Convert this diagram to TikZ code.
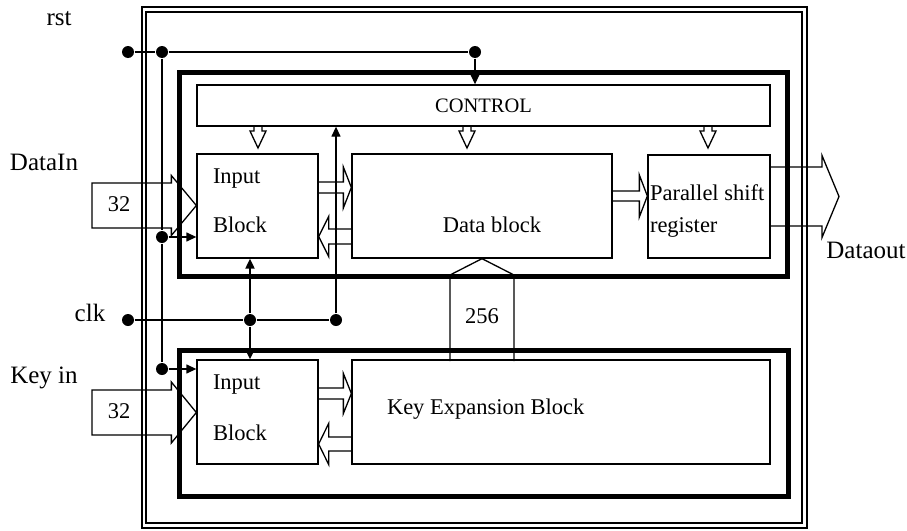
\documentclass[tikz,border=0pt]{standalone}
\usepackage{fontspec}
\setmainfont{Liberation Serif}
\usetikzlibrary{arrows.meta,calc}

\tikzset{
  blk/.style={draw,rectangle,inner sep=0pt,line width=1.3pt},
  dot/.style={circle,fill,inner sep=0pt,minimum size=12pt},
  lbl/.style={font=\fontsize{25}{30}\selectfont},
  fat/.style n args={3}{to path={let \p1=(\tikztostart),\p2=(\tikztotarget) in
    ({\x1},{\y1+#1pt}) -- ({\x2-(#3pt)},{\y1+#1pt}) -- ({\x2-(#3pt)},{\y1+#2pt}) -- ({\x2},{\y1})
    -- ({\x2-(#3pt)},{\y1-#2pt}) -- ({\x2-(#3pt)},{\y1-#1pt}) -- ({\x1},{\y1-#1pt})}},
  fatin/.style n args={3}{to path={let \p1=(\tikztostart),\p2=(\tikztotarget) in
    ({\x1},{\y1+#1pt}) -- ({\x2-(#3pt)},{\y1+#1pt}) -- ({\x2-(#3pt)},{\y1+#2pt}) -- ({\x2},{\y1})
    -- ({\x2-(#3pt)},{\y1-#2pt}) -- ({\x2-(#3pt)},{\y1-#1pt}) -- ({\x1},{\y1-#1pt}) -- cycle}},
}

\begin{document}
\begin{tikzpicture}[x=1pt,y=-1pt,>={Triangle[length=10pt,width=9pt]},line width=1.3pt,
  every node/.style={font=\fontsize{22.5}{27}\selectfont}]
\useasboundingbox (0,0) rectangle (907,530);
\draw (142,7) rectangle (807,528);
\draw (146,12) rectangle (802,523);
\draw[line width=5pt] (179,72) rectangle (787,276);
\draw[line width=5pt] (179,350) rectangle (788,496);

\node[blk,minimum width=573pt,minimum height=41pt,font=\fontsize{20.5}{24}\selectfont] (ctrl) at (483.5,105.5) {CONTROL};
\node[blk,minimum width=121pt,minimum height=104pt] (inA) at (257.5,206) {};
\node[blk,minimum width=260pt,minimum height=104pt] (datab) at (482,206) {};
\node[blk,minimum width=122pt,minimum height=103pt] (psr) at (709,206.5) {};
\node[blk,minimum width=121pt,minimum height=104pt] (inB) at (257.5,412) {};
\node[blk,minimum width=418pt,minimum height=104pt] (keyx) at (561,412) {};

\node[anchor=base west,inner xsep=0pt] (inAt1) at ([shift={(16,-23)}]inA.west) {Input};
\node[anchor=base west,inner xsep=0pt] (inAt2) at ([shift={(16,26)}]inA.west) {Block};
\node[anchor=base] (datat) at ([shift={(10,26)}]datab.center) {Data block};
\node[anchor=base west,inner xsep=0pt] (psrt1) at ([shift={(2,-6.5)}]psr.west) {Parallel shift};
\node[anchor=base west,inner xsep=0pt] (psrt2) at ([shift={(2,25.5)}]psr.west) {register};
\node[anchor=base west,inner xsep=0pt] (inBt1) at ([shift={(16,-23)}]inB.west) {Input};
\node[anchor=base west,inner xsep=0pt] (inBt2) at ([shift={(16,28)}]inB.west) {Block};
\node[anchor=base west,inner xsep=0pt] (keyt) at ([shift={(35,2)}]keyx.west) {Key Expansion Block};

\foreach \x in {258,467,708}
  \draw (\x-4,126) -- (\x-4,131) -- (\x-8,131) -- (\x,148) -- (\x+8,131) -- (\x+4,131) -- (\x+4,126);

\draw[fat={5.5}{20.5}{8}] ([yshift=18.5pt]inA.east) to ([yshift=18.5pt]datab.west);
\draw[fat={7.5}{20}{-10}] ([yshift=-30.5pt]datab.west) to ([yshift=-30.5pt]inA.east);
\draw[fat={5}{21}{8}] ([yshift=10pt]datab.east) to ([yshift=10pt]psr.west);
\coordinate (dout) at (839,196.5);
\draw[fat={29.5}{41}{17}] ([yshift=10pt]psr.east) to (dout);
\draw[fat={5.5}{20}{8}] ([yshift=18.5pt]inB.east) to ([yshift=18.5pt]keyx.west);
\draw[fat={7}{20.5}{-10}] ([yshift=-32pt]keyx.west) to ([yshift=-32pt]inB.east);

\coordinate (dinA) at (92,205.5);
\coordinate (dinB) at (92,412.5);
\draw[fatin={22.5}{30}{25}] (dinA) to (inA.west);
\draw[fatin={22.5}{30.5}{25}] (dinB) to (inB.west);
\node (wa) at (119,204) {32};
\node (wb) at (119,411) {32};

\draw (450,361) -- (450,275) -- (datab.south) -- (514,275) -- (514,361);
\node (wk) at (482,316) {256};

\node[dot] (r1) at (128,52) {};
\node[dot] (r2) at (162,52) {};
\node[dot] (r3) at (475,52) {};
\node[dot] (r4) at (162,237) {};
\node[dot] (r5) at (162,369) {};
\draw (r1) -- (r2) -- (r3);
\draw[->] (r3) -- (r3 |- ctrl.north);
\draw (r2) -- (r4) -- (r5);
\draw[->] (r4) -- (r4 -| inA.west);
\draw[->] (r5) -- (r5 -| inB.west);

\node[dot] (c1) at (128,320) {};
\node[dot] (c2) at (250,320) {};
\node[dot] (c3) at (336,320) {};
\draw (c1) -- (c2) -- (c3);
\draw[->,line width=2pt] (c2) -- (c2 |- inA.south);
\draw[->,line width=2pt] (c2) -- (c2 |- inB.north);
\draw[->] (c3) -- (c3 |- ctrl.south);

\node[lbl] (rst) at (59,19) {rst};
\node[lbl] (din) at (44,162) {DataIn};
\node[lbl] (clk) at (90,313) {clk};
\node[lbl] (kin) at (44,378) {Key in};
\node[lbl] (dot) at (866,250) {Dataout};
\end{tikzpicture}
\end{document}
